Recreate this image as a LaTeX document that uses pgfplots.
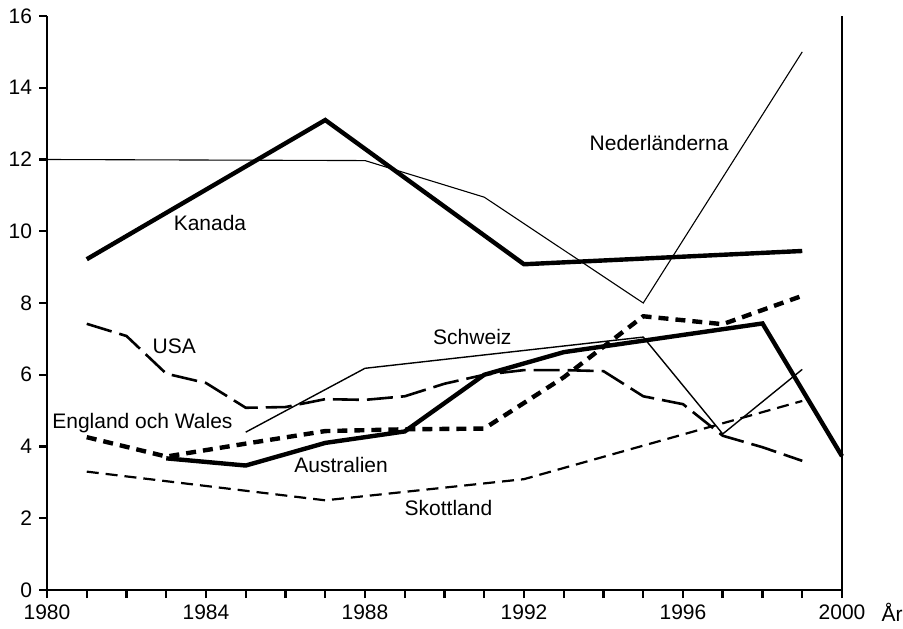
\documentclass[border=0pt]{standalone}
\usepackage{fontspec}
\setmainfont{Liberation Sans}
\usepackage{pgfplots}
\pgfplotsset{compat=1.18}
\begin{document}
\begin{tikzpicture}
\newcommand{\lf}{\fontsize{10.5}{12.6}\selectfont}
\begin{axis}[
  at={(0,0)}, anchor=south west,
  scale only axis,
  width=397.5pt, height=287pt,
  xmin=1980, xmax=2000, ymin=0, ymax=16,
  axis x line=bottom, axis y line=left,
  axis line style={-, line width=1.4pt},
  xtick={1980,1984,...,2000},
  minor xtick={1981,...,1999},
  ytick={0,2,...,16},
  tick align=outside,
  major tick length=4pt, minor tick length=4pt,
  every tick/.style={line width=1.2pt, black},
  every minor tick/.style={line width=1.2pt, black},
  x tick label style={/pgf/number format/1000 sep={}, yshift=-2pt, inner sep=1pt},
  /pgf/number format/assume math mode=true,
  tick label style={font=\lf},
  clip=false,
]
% Nederlanderna
\addplot[black, line width=0.55pt] coordinates {(1980,12.0) (1988,11.97) (1991,10.95) (1995,8.0) (1999,15.0)};
% Kanada
\addplot[black, line width=2.2pt] coordinates {(1981,9.22) (1987,13.1) (1992,9.08) (1999,9.45)};
% Schweiz
\addplot[black, line width=0.7pt] coordinates {(1985,4.4) (1988,6.18) (1995,7.05) (1997,4.35) (1999,6.15)};
% Australien
\addplot[black, line width=2.2pt] coordinates {(1983,3.67) (1985,3.47) (1987,4.1) (1989,4.42) (1991,6.0) (1993,6.63) (1998,7.43) (2000,3.73)};
% England och Wales
\addplot[black, line width=2.2pt, dash pattern=on 5pt off 3.5pt] coordinates {(1981,4.26) (1983,3.72) (1985,4.08) (1987,4.43) (1989,4.48) (1991,4.5) (1993,5.93) (1995,7.63) (1997,7.41) (1999,8.2)};
% USA
\addplot[black, line width=1.3pt, dash pattern=on 13pt off 4pt] coordinates {(1981,7.42) (1982,7.08) (1983,6.03) (1984,5.77) (1985,5.08) (1986,5.1) (1987,5.32) (1988,5.3) (1989,5.4) (1990,5.75) (1991,6.0) (1992,6.13) (1993,6.13) (1994,6.1) (1995,5.4) (1996,5.18) (1997,4.3) (1998,3.98) (1999,3.6)};
% Skottland
\addplot[black, line width=1.1pt, dash pattern=on 6pt off 3.5pt] coordinates {(1981,3.3) (1987,2.5) (1992,3.09) (1999,5.27)};
% right axis line
\draw[black, line width=1.2pt] (rel axis cs:1,0) -- (rel axis cs:1,1);
% labels
\node[font=\lf] at (axis cs:1984.1,10.22) {Kanada};
\node[font=\lf] at (axis cs:1995.4,12.45) {Nederländerna};
\node[font=\lf] at (axis cs:1983.2,6.8) {USA};
\node[font=\lf] at (axis cs:1990.7,7.05) {Schweiz};
\node[font=\lf] at (axis cs:1982.4,4.65) {England och Wales};
\node[font=\lf] at (axis cs:1987.4,3.48) {Australien};
\node[font=\lf] at (axis cs:1990.1,2.28) {Skottland};
\node[font=\lf, inner sep=1pt] at (rel axis cs:1,0) [xshift=25pt, yshift=-11pt] {År};
\end{axis}
\pgfresetboundingbox
\path (-23.5pt,-19pt) rectangle (428pt,295pt);
\end{tikzpicture}
\end{document}
